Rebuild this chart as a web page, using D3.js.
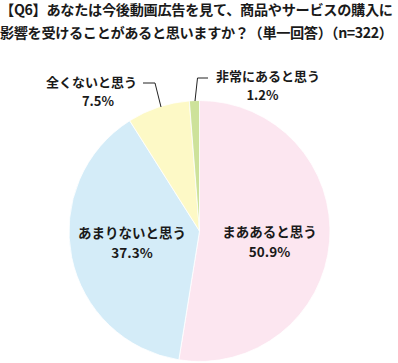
<!DOCTYPE html>
<html><head><meta charset="utf-8">
<script src="https://cdn.jsdelivr.net/npm/d3@7"></script>
<style>
html,body{margin:0;padding:0;background:#fff;}
svg{display:block;font-family:"Noto Sans CJK JP","Noto Sans",sans-serif;font-weight:bold;}
</style></head>
<body><svg id="c" width="398" height="363"></svg>
<script>
const titleLines = ["【Q6】あなたは今後動画広告を見て、商品やサービスの購入に", "影響を受けることがあると思いますか？（単一回答）（n=322）"];
const categories = ["まああると思う", "あまりないと思う", "全くないと思う", "非常にあると思う"];
const values = [50.9, 37.3, 7.5, 1.2];
const valueLabels = ["50.9%", "37.3%", "7.5%", "1.2%"];
const colors = ["#fce6f0", "#d4ecf8", "#fdf9c6", "#cde29a"];

const svg = d3.select("#c");
const cx = 199.5, cy = 231, r = 130.5;

// title
svg.append("g").selectAll("text").data(titleLines).join("text")
  .attr("x", 0).attr("y", (d,i) => 15 + i*23)
  .attr("font-size", 14.2).attr("fill", "#1a1a1a")
  .attr("textLength", 393).attr("lengthAdjust", "spacing")
  .text(d => d);

const pie = d3.pie().sort(null).value(d => d)(values);
const arc = d3.arc().innerRadius(0).outerRadius(r);
const g = svg.append("g").attr("transform", `translate(${cx},${cy})`);
g.selectAll("path").data(pie).join("path")
  .attr("d", arc).attr("fill", (d,i) => colors[i])
  .attr("stroke", "#ffffff").attr("stroke-width", 0.8);

// inside labels (large slices)
const inside = [
  {i:0, x:269.5, y:232},
  {i:1, x:132, y:233}
];
inside.forEach(p => {
  const t = svg.append("text").attr("text-anchor","middle")
    .attr("font-size", 13.5).attr("fill","#1a1a1a");
  t.append("tspan").attr("x", p.x).attr("y", p.y + 5).text(categories[p.i]);
  t.append("tspan").attr("x", p.x).attr("y", p.y + 25).text(valueLabels[p.i]);
});

// outside labels with leader lines
const outside = [
  {i:2, tx:91.5, ty:82, px:98, line:[[143,83],[155,83],[161,107]]},
  {i:3, tx:268, ty:76, px:262.5, line:[[195,101],[197.5,78],[208,78]]}
];
outside.forEach(p => {
  const t = svg.append("text").attr("text-anchor","middle")
    .attr("font-size", 13).attr("fill","#1a1a1a");
  t.append("tspan").attr("x", p.tx).attr("y", p.ty + 5).text(categories[p.i]);
  t.append("tspan").attr("x", p.px).attr("y", p.ty + 24).text(valueLabels[p.i]);
  svg.append("path").attr("d", d3.line()(p.line)).attr("fill","none")
    .attr("stroke","#222").attr("stroke-width",1);
});
</script></body></html>
